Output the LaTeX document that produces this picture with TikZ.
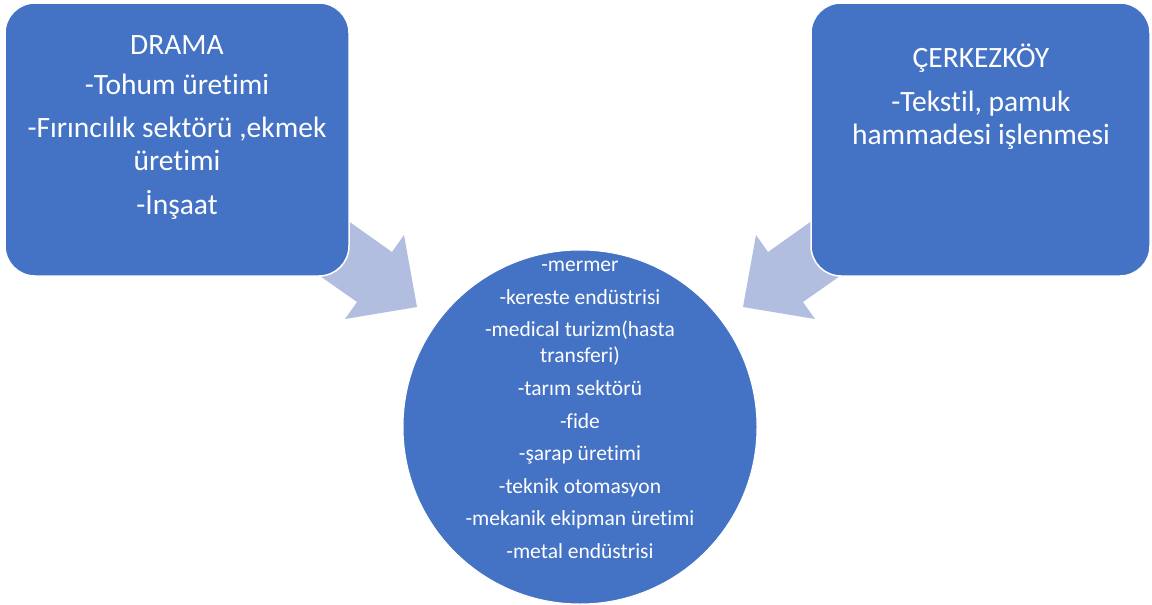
\documentclass[tikz,border=0pt]{standalone}
\usepackage{fontspec}
\setmainfont{Carlito}[Ligatures=NoCommon]
\definecolor{boxblue}{RGB}{68,114,196}
\definecolor{arrowblue}{RGB}{177,190,224}
\begin{document}
\begin{tikzpicture}[x=1pt,y=-1pt,
  blockbox/.style={draw=white,line width=1.5pt,fill=boxblue,rounded corners=30pt,inner sep=0pt},
  bigtext/.style={text=white,align=center,inner sep=0pt,anchor=north,font=\fontsize{29.5}{33}\selectfont},
  smalltext/.style={text=white,align=center,inner sep=0pt,anchor=north,font=\fontsize{21.5}{26}\selectfont},
  blockarrow/.style={fill=arrowblue,draw=none}]
\useasboundingbox (0,0) rectangle (1152,605);
% arrows
\fill[arrowblue] (330,208) -- (392,252) -- (404,235) -- (417,307) -- (345,319) -- (357,302) -- (300,262) -- cycle;
\fill[arrowblue] (830,208) -- (768,252) -- (756,235) -- (743,307) -- (815,319) -- (803,302) -- (860,262) -- cycle;
% boxes
\draw[blockbox] (5,3) rectangle (349,276);
\coordinate (lefttop) at (177,35.5);
\node[bigtext] (drama) at (lefttop) {DRAMA\\[7pt]-Tohum üretimi\\[10pt]-Fırıncılık sektörü ,ekmek\\üretimi\\[11pt]-İnşaat};
\draw[blockbox] (811,3) rectangle (1150,276);
\coordinate (righttop) at (981,44);
\node[bigtext] (cerkez) at (righttop) {ÇERKEZKÖY\\[11pt]-Tekstil, pamuk\\hammadesi işlenmesi};
% circle
\node[circle,fill=boxblue,draw=white,line width=1pt,minimum size=354pt,inner sep=0pt] (center) at (580,427) {};
\node[smalltext] (list) at (580,261) {-mermer\\[6.6pt]-kereste endüstrisi\\[6.6pt]-medical turizm(hasta\\transferi)\\[6.6pt]-tarım sektörü\\[6.6pt]-fide\\[6.6pt]-şarap üretimi\\[6.6pt]-teknik otomasyon\\[6.6pt]-mekanik ekipman üretimi\\[6.6pt]-metal endüstrisi};
\end{tikzpicture}
\end{document}
